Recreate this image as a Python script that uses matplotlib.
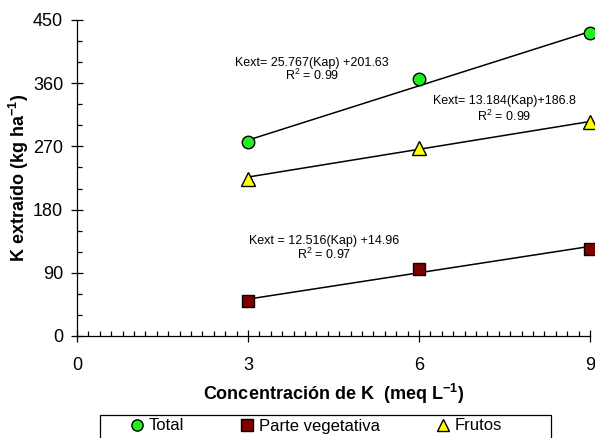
import matplotlib
matplotlib.use("Agg")
import matplotlib.pyplot as plt
from matplotlib.patches import Rectangle
from matplotlib.ticker import MultipleLocator
import numpy as np

plt.rcParams['font.family'] = ['Liberation Sans', 'DejaVu Sans']
plt.rcParams['mathtext.fontset'] = 'custom'
plt.rcParams['mathtext.rm'] = 'Liberation Sans'
plt.rcParams['mathtext.it'] = 'Liberation Sans:italic'
plt.rcParams['mathtext.bf'] = 'Liberation Sans:bold'

# Data
conc = [3, 6, 9]
total = [276, 366, 431]
vegetativa = [50, 95, 124]
frutos = [224, 268, 305]

# Regression coefficients (slope, intercept) as printed on the chart
fit_total = (25.767, 201.63)
fit_veg = (12.516, 14.96)
fit_frutos = (13.184, 186.8)

eq_total = ["Kext= 25.767(Kap) +201.63", "R$^2$ = 0.99"]
eq_frutos = ["Kext= 13.184(Kap)+186.8", "R$^2$ = 0.99"]
eq_veg = ["Kext = 12.516(Kap) +14.96", "R$^2$ = 0.97"]

xticks = [0, 3, 6, 9]
yticks = [0, 90, 180, 270, 360, 450]

fig = plt.figure(figsize=(5.95, 4.38), dpi=100)
ax = fig.add_axes([77/595, 1-336/438, (590-77)/595, (336-20)/438])

xl = np.array([3, 9])
for (m, b) in (fit_total, fit_frutos, fit_veg):
    ax.plot(xl, m*xl + b, color='black', lw=1.1, zorder=2)

ms = 9
h1, = ax.plot(conc, total, 'o', ms=ms, mfc='#22ee22', mec='black', mew=1.0,
              clip_on=False, zorder=3, label='Total')
h2, = ax.plot(conc, vegetativa, 's', ms=ms, mfc='#800000', mec='black', mew=1.0,
              clip_on=False, zorder=3, label='Parte vegetativa')
h3, = ax.plot(conc, frutos, '^', ms=ms+1, mfc='#ffff00', mec='black', mew=1.0,
              clip_on=False, zorder=3, label='Frutos')

fs_eq = 9
ax.text(4.12, 389, eq_total[0], ha='center', va='center', fontsize=fs_eq)
ax.text(4.12, 371, eq_total[1], ha='center', va='center', fontsize=fs_eq)
ax.text(7.5, 334, eq_frutos[0], ha='center', va='center', fontsize=fs_eq)
ax.text(7.5, 313, eq_frutos[1], ha='center', va='center', fontsize=fs_eq)
ax.text(4.33, 135, eq_veg[0], ha='center', va='center', fontsize=fs_eq)
ax.text(4.33, 116, eq_veg[1], ha='center', va='center', fontsize=fs_eq)

ax.set_xlim(0, 9)
ax.set_ylim(0, 450)
ax.set_xticks(xticks)
ax.set_yticks(yticks)
ax.xaxis.set_minor_locator(MultipleLocator(0.2))
ax.yaxis.set_minor_locator(MultipleLocator(30))
ax.spines['top'].set_visible(False)
ax.spines['right'].set_visible(False)
for s in ('left', 'bottom'):
    ax.spines[s].set_linewidth(0.9)
ax.tick_params(which='major', direction='inout', length=8, width=0.9,
               labelsize=13, pad=6)
ax.tick_params(axis='x', which='major', pad=11)
ax.tick_params(which='minor', direction='in', length=3.5, width=0.9)

ax.set_xlabel('Concentración de K  (meq L$^{\\mathbf{-1}}$)', fontsize=13,
              fontweight='bold', labelpad=6)
ax.set_ylabel('K extraído (kg ha$^{\\mathbf{-1}}$)', fontsize=13,
              fontweight='bold')
ax.yaxis.set_label_coords(-0.09, 0.5)

# Legend frame
fig.patches.append(Rectangle((100/595, -0.01), (551-100)/595, (438-415)/438 + 0.01,
                             transform=fig.transFigure, fill=False,
                             edgecolor='black', lw=0.9))
fig.legend(handles=[h1, h2, h3], loc='center left', ncol=3,
           bbox_to_anchor=(130/595, 1-426/438), frameon=False, fontsize=12,
           handlelength=0.8, handletextpad=0.3, columnspacing=3.4,
           markerscale=0.9, borderpad=0, borderaxespad=0)

fig.savefig('out.png', dpi=100)
